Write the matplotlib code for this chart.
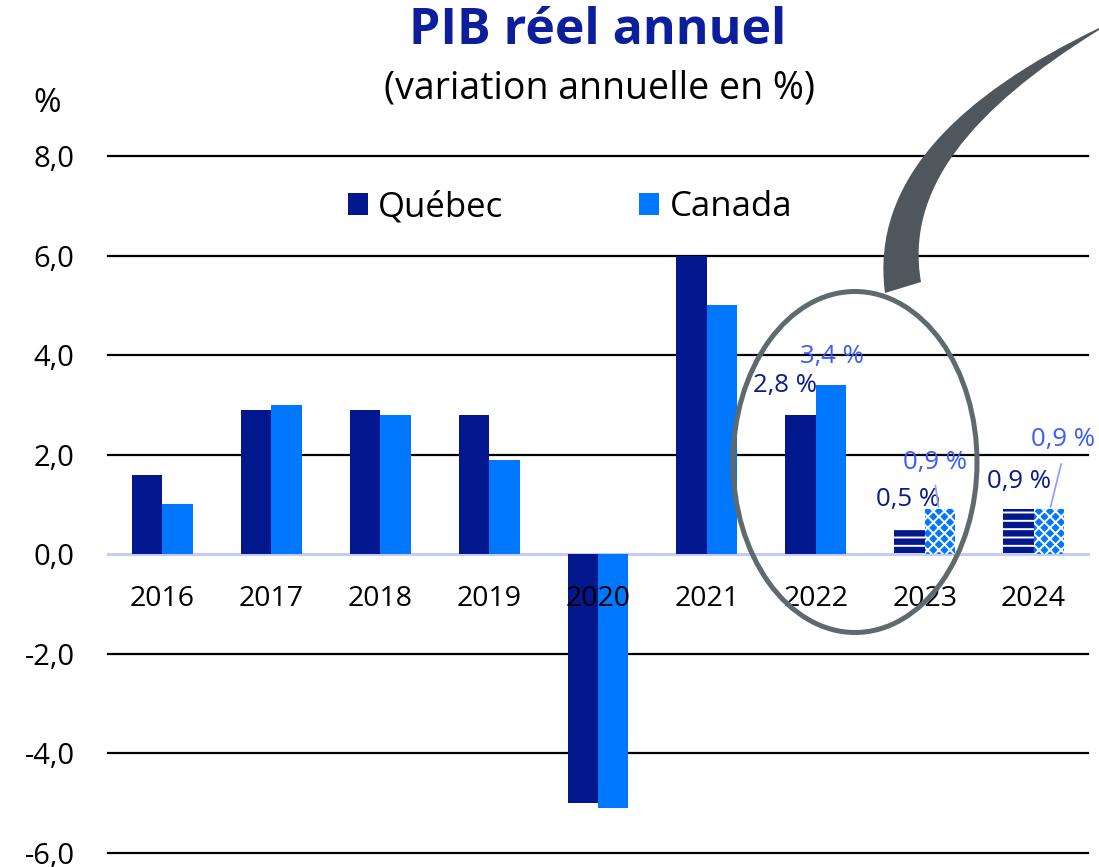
import matplotlib
matplotlib.use("Agg")
import matplotlib.pyplot as plt
from matplotlib.patches import Patch, Ellipse, PathPatch
from matplotlib.path import Path
import numpy as np

plt.rcParams['font.family'] = ['Open Sans', 'DejaVu Sans']
plt.rcParams['hatch.linewidth'] = 1.4

# ---- data ----
years = ["2016", "2017", "2018", "2019", "2020", "2021", "2022", "2023", "2024"]
quebec = [1.6, 2.9, 2.9, 2.8, -5.0, 6.0, 2.8, 0.5, 0.9]
canada = [1.0, 3.0, 2.8, 1.9, -5.1, 5.0, 3.4, 0.9, 0.9]
forecast = [False, False, False, False, False, False, False, True, True]
yticks = [-6, -4, -2, 0, 2, 4, 6, 8]
labelled = [6, 7, 8]  # categories with data labels

Q_COL = "#03178F"
C_COL = "#0077FF"
QL_COL = "#0A1A8A"
CL_COL = "#3B5BFF"

W, H = 1099, 867
fig = plt.figure(figsize=(W / 100, H / 100), dpi=100)
ax = fig.add_axes([108 / W, 1 - 853 / H, (1088 - 108) / W, (853 - 156) / H])

x = np.arange(len(years))
bw = 0.28
for i in range(len(years)):
    if forecast[i]:
        ax.bar(x[i] - bw / 2, quebec[i], bw, facecolor=Q_COL, edgecolor="white",
               hatch="--", linewidth=0, zorder=3)
        ax.bar(x[i] + bw / 2, canada[i], bw, facecolor=C_COL, edgecolor="white",
               hatch="xxx", linewidth=0, zorder=3)
    else:
        ax.bar(x[i] - bw / 2, quebec[i], bw, color=Q_COL, linewidth=0, zorder=3)
        ax.bar(x[i] + bw / 2, canada[i], bw, color=C_COL, linewidth=0, zorder=3)

ax.set_xlim(-0.5, len(years) - 0.5)
ax.set_ylim(yticks[0], yticks[-1])
for v in yticks:
    if v == 0:
        ax.axhline(v, color="#C5CBF7", lw=2.2, zorder=2, clip_on=False)
    else:
        ax.axhline(v, color="black", lw=1.6, zorder=1, clip_on=False)

ax.set_yticks(yticks)
ax.set_yticklabels([f"{v:.1f}".replace(".", ",") for v in yticks], fontsize=21)
ax.tick_params(axis="y", length=0, pad=24)
ax.set_xticks([])
for s in ax.spines.values():
    s.set_visible(False)

# category labels inside plot
for i, yr in enumerate(years):
    ax.text(x[i], -0.9, yr, ha="center", va="center", fontsize=20.5, zorder=5)

# data labels
def fmt(v):
    return f"{v:.1f}".replace(".", ",") + " %"

q_off = {6: (-0.283, 0.59), 7: (-0.154, 0.60), 8: (-0.135, 0.56)}
c_off = {6: (0.148, 0.57), 7: (0.094, 0.945), 8: (0.27, 1.41)}
for i in labelled:
    dx, dy = q_off[i]
    ax.text(x[i] + dx, quebec[i] + dy, fmt(quebec[i]), ha="center", va="center",
            fontsize=18.5, color=QL_COL, zorder=6)
    dx, dy = c_off[i]
    ax.text(x[i] + dx, canada[i] + dy, fmt(canada[i]), ha="center", va="center",
            fontsize=18.5, color=CL_COL, zorder=6)

# leader lines
ax.annotate("", xy=(x[7] + 0.13, canada[7]), xytext=(x[7] + 0.095, canada[7] + 0.54),
            arrowprops=dict(arrowstyle="-", color="#8A9CFF", lw=1.2), zorder=6)
ax.annotate("", xy=(x[8] + 0.15, canada[8]), xytext=(x[8] + 0.26, canada[8] + 0.97),
            arrowprops=dict(arrowstyle="-", color="#8A9CFF", lw=1.2), zorder=6)

# legend
handles = [Patch(facecolor=Q_COL, label="Québec"), Patch(facecolor=C_COL, label="Canada")]
fig.legend(handles=handles, loc="center", bbox_to_anchor=(570 / W, 1 - 207 / H),
           ncol=2, frameon=False, fontsize=25, handlelength=0.58, handleheight=0.58,
           handletextpad=0.3, columnspacing=3.9)

# titles
fig.text(598 / W, 1 - 31 / H, "PIB réel annuel", ha="center", va="center",
         fontsize=36, fontweight="bold", color="#0C1E9C")
fig.text(600 / W, 1 - 89 / H, "(variation annuelle en %)", ha="center", va="center",
         fontsize=27)
fig.text(47 / W, 1 - 104 / H, "%", ha="center", va="center", fontsize=24)

# ellipse highlight
ell = Ellipse((855 / W, 1 - 462 / H), 244 / W, 341 / H, transform=fig.transFigure,
              fill=False, edgecolor="#5F6A6E", lw=3.6, zorder=10)
fig.patches.append(ell)

# swoosh
def fp(px, py):
    return (px / W, 1 - py / H)

verts = [fp(1099, 28), fp(960, 95), fp(870, 180), fp(885, 293),
         fp(921, 282),
         fp(905, 190), fp(970, 110), fp(1099, 30),
         fp(1099, 28)]
codes = [Path.MOVETO, Path.CURVE4, Path.CURVE4, Path.CURVE4,
         Path.LINETO,
         Path.CURVE4, Path.CURVE4, Path.CURVE4,
         Path.CLOSEPOLY]
sw = PathPatch(Path(verts, codes), transform=fig.transFigure, facecolor="#4F565C",
               edgecolor="none", zorder=11)
fig.patches.append(sw)

fig.savefig("out.png", dpi=100)
